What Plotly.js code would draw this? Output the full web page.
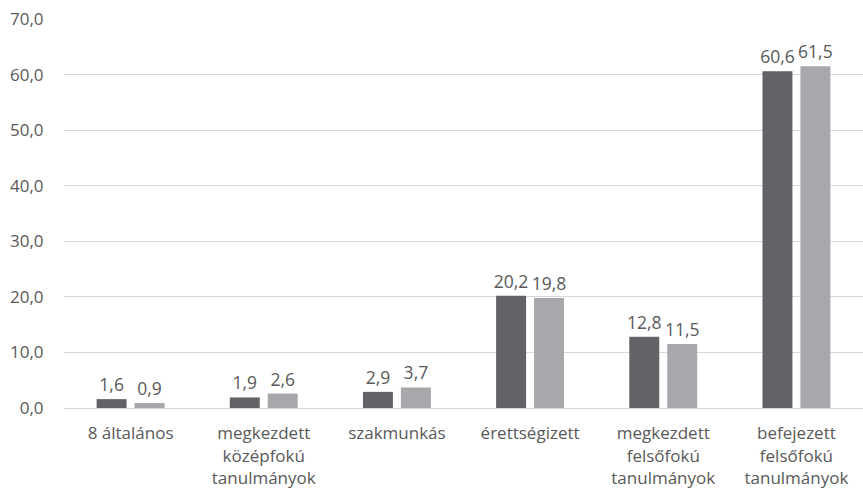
<!DOCTYPE html>
<html>
<head>
<meta charset="utf-8">
<script src="https://cdn.plot.ly/plotly-3.0.1.min.js"></script>
<style>
  html, body { margin: 0; padding: 0; background: #fff; }
  #chart { width: 863px; height: 492px; }
</style>
</head>
<body>
<div id="chart"></div>
<script>
var categories = ['8 általános', 'megkezdett<br>középfokú<br>tanulmányok', 'szakmunkás',
  'érettségizett', 'megkezdett<br>felsőfokú<br>tanulmányok', 'befejezett<br>felsőfokú<br>tanulmányok'];
var series1 = [1.6, 1.9, 2.9, 20.2, 12.8, 60.6];
var series2 = [0.9, 2.6, 3.7, 19.8, 11.5, 61.5];
var yTicks = [0, 10, 20, 30, 40, 50, 60, 70];

var valueFont = {family: 'Open Sans, sans-serif', size: 17.5, color: '#595959'};
var axisFont = {family: 'Open Sans, sans-serif', size: 17, color: '#595959'};

var trace1 = {
  x: categories,
  y: series1,
  type: 'bar',
  name: 'A',
  marker: {color: '#626366'},
  texttemplate: '%{y:.1f}',
  textposition: 'outside',
  constraintext: 'none',
  textfont: valueFont,
  cliponaxis: false,
  hoverinfo: 'none'
};

var trace2 = {
  x: categories,
  y: series2,
  type: 'bar',
  name: 'B',
  marker: {color: '#a7a8ac'},
  texttemplate: '%{y:.1f}',
  textposition: 'outside',
  constraintext: 'none',
  textfont: valueFont,
  cliponaxis: false,
  hoverinfo: 'none'
};

var layout = {
  width: 863,
  height: 492,
  margin: {l: 64, r: 0, t: 19, b: 84},
  paper_bgcolor: '#fff',
  plot_bgcolor: '#fff',
  separators: ', ',
  showlegend: false,
  barmode: 'group',
  bargap: 0.43,
  bargroupgap: 0.21,
  font: axisFont,
  xaxis: {
    tickfont: axisFont,
    ticks: 'outside',
    ticklen: 10,
    tickcolor: 'rgba(0,0,0,0)',
    showline: false,
    fixedrange: true
  },
  yaxis: {
    range: [0, 70],
    tickvals: yTicks,
    tickformat: '.1f',
    tickfont: axisFont,
    ticks: 'outside',
    ticklen: 16,
    tickcolor: 'rgba(0,0,0,0)',
    gridcolor: '#d9d9d9',
    gridwidth: 1,
    zeroline: true,
    zerolinecolor: '#d9d9d9',
    zerolinewidth: 1,
    fixedrange: true
  }
};

Plotly.newPlot('chart', [trace1, trace2], layout, {displayModeBar: false, staticPlot: true});
</script>
</body>
</html>
